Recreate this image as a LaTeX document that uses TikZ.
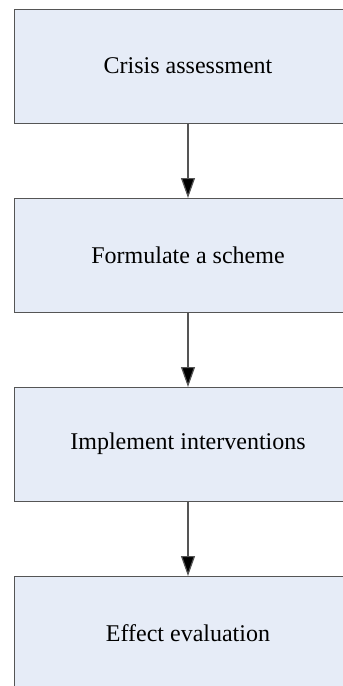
\documentclass[tikz,border=0pt]{standalone}
\usepackage{fontspec}
\setmainfont{Liberation Serif}
\usepackage{tikz}
\usetikzlibrary{positioning, arrows.meta}

\definecolor{boxfill}{RGB}{230,236,247}
\definecolor{boxline}{RGB}{85,85,85}

\begin{document}
\begin{tikzpicture}[
        stagebox/.style={
            rectangle, draw=boxline, fill=boxfill, line width=0.5pt,
            minimum width=174pt, minimum height=57pt,
            inner sep=0pt, outer sep=0pt,
            align=center, font=\large
        },
        arrow/.style={-{Triangle[length=10pt,width=7pt,fill=black]}, draw=boxline, line width=0.6pt}
    ]
        \useasboundingbox (0,0) rectangle (171.5pt,-343pt);

        \node[stagebox, anchor=north west] (assess) at (7pt,-4.5pt) {Crisis assessment};
        \node[stagebox, below=37.5pt of assess] (scheme) {Formulate a scheme};
        \node[stagebox, below=37.5pt of scheme] (implement) {Implement interventions};
        \node[stagebox, below=37.5pt of implement] (evaluate) {Effect evaluation};

        \draw[arrow] (assess) -- (scheme);
        \draw[arrow] (scheme) -- (implement);
        \draw[arrow] (implement) -- (evaluate);
    \end{tikzpicture}
\end{document}
